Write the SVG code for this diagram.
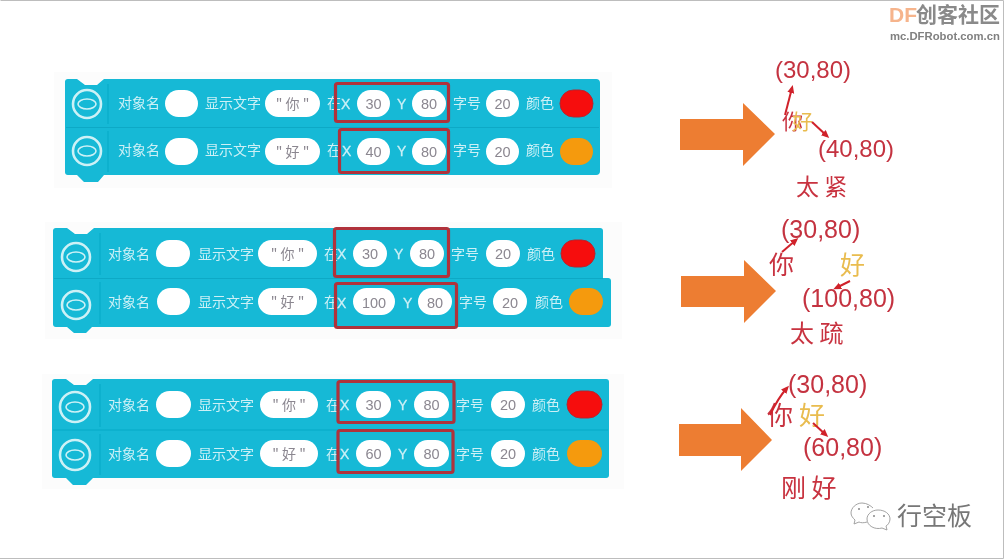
<svg xmlns="http://www.w3.org/2000/svg" width="1005" height="560" viewBox="0 0 1005 560">
<style>
text{font-family:"Noto Sans CJK SC","Liberation Sans",sans-serif}
.soft{filter:url(#s)}
.b{fill:#12b9d6}
.ln{fill:none;stroke:#0aa9c6;stroke-width:1}
.l{fill:#cdf0f6;font-size:14px}
.e{fill:#cdf0f6;font-size:14px;font-family:"Liberation Sans",sans-serif;stroke:#cdf0f6;stroke-width:.3}
.p{fill:#fff}
.v{fill:#8b8790;font-size:14.500px;text-anchor:middle;font-family:"Liberation Sans",sans-serif}
.q{fill:#8b8790;font-size:14px;text-anchor:middle}
.box{fill:none;stroke:#b0333a;stroke-width:3.200}
.ic{fill:none;stroke:#cdf1f6;stroke-width:2.600}
.ic2{fill:none;stroke:#cdf1f6;stroke-width:1.600}
.ar{fill:#ed7d31}
.co{fill:#c4323f;font-family:"Liberation Sans",sans-serif}
.zh{fill:#c8323f}
.yo{fill:#e9bc4f}
.pt{fill:none;stroke:#d0202a;stroke-width:2;marker-end:url(#m)}
</style>
<defs>
<filter id="s" x="-2%" y="-2%" width="104%" height="104%"><feGaussianBlur stdDeviation="0.450"/></filter>
<marker id="m" markerWidth="9" markerHeight="8" refX="5" refY="3.500" orient="auto" markerUnits="userSpaceOnUse"><path d="M0,0L8,3.500L0,7z" fill="#d0202a"/></marker>
</defs>
<rect width="1005" height="560" fill="#fff"/>
<path d="M0.500,0.500H1003.500V558.500H0" fill="none" stroke="#bdbdbd" stroke-width="1"/>
<rect x="54" y="72" width="558" height="116" fill="#fcfcfc"/>
<rect x="45" y="222" width="577" height="117" fill="#fcfcfc"/>
<rect x="42" y="374" width="582" height="115" fill="#fcfcfc"/>

<g id="block-1" class="soft">
<path class="b" d="M68,79H77L85,85H97L104,79H596Q600,79 600,83V171Q600,175 596,175H104L98,182H84L77,175H68Q65,175 65,172V82Q65,79 68,79Z"/>
<path class="ln" d="M66,127.500H599M108,84V124M108,131V172"/>
<circle class="ic" cx="87" cy="104" r="14"/><ellipse class="ic2" cx="87" cy="104" rx="9" ry="5"/>
<circle class="ic" cx="87" cy="151" r="14"/><ellipse class="ic2" cx="87" cy="151" rx="9" ry="5"/>
<text class="l" x="118" y="108">对象名</text><rect class="p" x="165" y="90" width="33" height="27" rx="13.500"/>
<text class="l" x="205" y="108">显示文字</text><rect class="p" x="265" y="90" width="55" height="27" rx="13.500"/><text class="q" x="292.500" y="109">" 你 "</text>
<text class="l" x="327" y="108">在</text><text class="e" x="341" y="109">X</text><rect class="p" x="357" y="90" width="33" height="27" rx="13.500"/><text class="v" x="373.500" y="109">30</text>
<text class="e" x="397" y="109">Y</text><rect class="p" x="412" y="90" width="34" height="27" rx="13.500"/><text class="v" x="429" y="109">80</text>
<text class="l" x="453" y="108">字号</text><rect class="p" x="486" y="90" width="33" height="27" rx="13.500"/><text class="v" x="502.500" y="109">20</text>
<text class="l" x="526" y="108">颜色</text><rect x="560" y="90" width="33" height="27" rx="13.500" fill="#f60b0e" stroke="#b8262e" stroke-width="1"/>
<text class="l" x="118" y="155">对象名</text><rect class="p" x="165" y="138" width="33" height="27" rx="13.500"/>
<text class="l" x="205" y="155">显示文字</text><rect class="p" x="265" y="138" width="55" height="27" rx="13.500"/><text class="q" x="292.500" y="157">" 好 "</text>
<text class="l" x="327" y="155">在</text><text class="e" x="342" y="156">X</text><rect class="p" x="357" y="138" width="33" height="27" rx="13.500"/><text class="v" x="373.500" y="157">40</text>
<text class="e" x="397" y="156">Y</text><rect class="p" x="412" y="138" width="34" height="27" rx="13.500"/><text class="v" x="429" y="157">80</text>
<text class="l" x="453" y="155">字号</text><rect class="p" x="486" y="138" width="33" height="27" rx="13.500"/><text class="v" x="502.500" y="157">20</text>
<text class="l" x="526" y="155">颜色</text><rect x="560" y="138" width="33" height="27" rx="13.500" fill="#f59a0c"/>
<rect class="box" x="335.500" y="83.500" width="113" height="38" rx="2"/>
<rect class="box" x="339.500" y="129.500" width="109" height="43" rx="2"/>
</g>

<g id="block-2" class="soft">
<path class="b" d="M56,228H67L75,234H87L94,228H600Q603,228 603,231V278H608Q611,278 611,281V324Q611,327 608,327H92L86,333H74L67,327H56Q53,327 53,324V231Q53,228 56,228Z"/>
<path class="ln" d="M54,278.500H603M100,233V275M100,282V324"/>
<circle class="ic" cx="76" cy="257" r="14"/><ellipse class="ic2" cx="76" cy="257" rx="9" ry="5"/>
<circle class="ic" cx="76" cy="305" r="14"/><ellipse class="ic2" cx="76" cy="305" rx="9" ry="5"/>
<text class="l" x="108" y="259">对象名</text><rect class="p" x="156" y="240" width="34" height="27" rx="13.500"/>
<text class="l" x="198" y="259">显示文字</text><rect class="p" x="258" y="240" width="59" height="27" rx="13.500"/><text class="q" x="287.500" y="259">" 你 "</text>
<text class="l" x="324" y="259">在</text><text class="e" x="337" y="259">X</text><rect class="p" x="353" y="240" width="34" height="27" rx="13.500"/><text class="v" x="370" y="259">30</text>
<text class="e" x="394" y="259">Y</text><rect class="p" x="410" y="240" width="34" height="27" rx="13.500"/><text class="v" x="427" y="259">80</text>
<text class="l" x="451" y="259">字号</text><rect class="p" x="486" y="240" width="34" height="27" rx="13.500"/><text class="v" x="503" y="259">20</text>
<text class="l" x="527" y="259">颜色</text><rect x="561" y="240" width="34" height="27" rx="13.500" fill="#f60b0e" stroke="#b8262e" stroke-width="1"/>
<text class="l" x="108" y="307">对象名</text><rect class="p" x="157" y="288" width="33" height="27" rx="13.500"/>
<text class="l" x="198" y="307">显示文字</text><rect class="p" x="258" y="288" width="59" height="27" rx="13.500"/><text class="q" x="287.500" y="307">" 好 "</text>
<text class="l" x="324" y="307">在</text><text class="e" x="337" y="308">X</text><rect class="p" x="353" y="288" width="42" height="27" rx="13.500"/><text class="v" x="374" y="308">100</text>
<text class="e" x="403" y="308">Y</text><rect class="p" x="418" y="288" width="34" height="27" rx="13.500"/><text class="v" x="435" y="308">80</text>
<text class="l" x="459" y="307">字号</text><rect class="p" x="493" y="288" width="34" height="27" rx="13.500"/><text class="v" x="510" y="308">20</text>
<text class="l" x="535" y="307">颜色</text><rect x="569" y="288" width="34" height="27" rx="13.500" fill="#f59a0c"/>
<rect class="box" x="334.500" y="228.500" width="114" height="48" rx="2"/>
<rect class="box" x="335.500" y="283.500" width="121" height="44" rx="2"/>
</g>

<g id="block-3" class="soft">
<path class="b" d="M55,379H66L74,385H86L93,379H606Q609,379 609,382V475Q609,478 606,478H93L86,485H73L66,478H55Q52,478 52,475V382Q52,379 55,379Z"/>
<path class="ln" d="M53,430H608M100,384V427M100,434V475"/>
<circle class="ic" cx="75" cy="407" r="15"/><ellipse class="ic2" cx="75" cy="407" rx="9" ry="5"/>
<circle class="ic" cx="75" cy="455" r="15"/><ellipse class="ic2" cx="75" cy="455" rx="9" ry="5"/>
<text class="l" x="108" y="410">对象名</text><rect class="p" x="156" y="391" width="35" height="27" rx="13.500"/>
<text class="l" x="198" y="410">显示文字</text><rect class="p" x="260" y="391" width="58" height="27" rx="13.500"/><text class="q" x="289" y="410">" 你 "</text>
<text class="l" x="326" y="410">在</text><text class="e" x="340" y="410">X</text><rect class="p" x="356" y="391" width="35" height="27" rx="13.500"/><text class="v" x="373.500" y="410">30</text>
<text class="e" x="398" y="410">Y</text><rect class="p" x="414" y="391" width="35" height="27" rx="13.500"/><text class="v" x="431.500" y="410">80</text>
<text class="l" x="456" y="410">字号</text><rect class="p" x="491" y="391" width="34" height="27" rx="13.500"/><text class="v" x="508" y="410">20</text>
<text class="l" x="532" y="410">颜色</text><rect x="567" y="391" width="35" height="27" rx="13.500" fill="#f60b0e" stroke="#b8262e" stroke-width="1"/>
<text class="l" x="108" y="459">对象名</text><rect class="p" x="156" y="440" width="35" height="27" rx="13.500"/>
<text class="l" x="198" y="459">显示文字</text><rect class="p" x="260" y="440" width="58" height="27" rx="13.500"/><text class="q" x="289" y="459">" 好 "</text>
<text class="l" x="326" y="459">在</text><text class="e" x="340" y="459">X</text><rect class="p" x="356" y="440" width="35" height="27" rx="13.500"/><text class="v" x="373.500" y="459">60</text>
<text class="e" x="398" y="459">Y</text><rect class="p" x="414" y="440" width="35" height="27" rx="13.500"/><text class="v" x="431.500" y="459">80</text>
<text class="l" x="456" y="459">字号</text><rect class="p" x="491" y="440" width="34" height="27" rx="13.500"/><text class="v" x="508" y="459">20</text>
<text class="l" x="532" y="459">颜色</text><rect x="567" y="440" width="35" height="27" rx="13.500" fill="#f59a0c"/>
<rect class="box" x="338" y="381.500" width="116" height="41" rx="2"/>
<rect class="box" x="338" y="430.500" width="115" height="42" rx="2"/>
</g>

<g id="arrows" class="soft">
<path class="ar" d="M680,119H743V103L775,134L743,166V150H680Z"/>
<path class="ar" d="M681,276H744V260L776,291L744,323V307H681Z"/>
<path class="ar" d="M679,424H741V408L772,440L741,471V456H679Z"/>
</g>

<g id="result-1" class="soft">
<text class="co" x="775" y="78" font-size="24">(30,80)</text>
<text class="zh" x="782" y="129" font-size="21">你</text>
<text class="yo" x="792" y="129" font-size="21">好</text>
<text class="co" x="818" y="157" font-size="24">(40,80)</text>
<text class="zh" x="796" y="195" font-size="23" xml:space="preserve">太 紧</text>
</g>
<g id="result-2" class="soft">
<text class="co" x="781" y="238" font-size="25">(30,80)</text>
<text class="zh" x="769" y="274" font-size="25">你</text>
<text class="yo" x="840" y="274" font-size="25">好</text>
<text class="co" x="802" y="307" font-size="25">(100,80)</text>
<text class="zh" x="790" y="342" font-size="24" xml:space="preserve">太 疏</text>
</g>
<g id="result-3" class="soft">
<text class="co" x="788" y="393" font-size="25">(30,80)</text>
<text class="zh" x="767" y="425" font-size="26">你</text>
<text class="yo" x="799" y="425" font-size="26">好</text>
<text class="co" x="803" y="456" font-size="25">(60,80)</text>
<text class="zh" x="781" y="497" font-size="25" xml:space="preserve">刚 好</text>
</g>

<g id="connectors" class="soft">
<path class="pt" d="M785,115L792,88"/>
<path class="pt" d="M812,122L827,136"/>
<path class="pt" d="M782,252L796,240"/>
<path class="pt" d="M850,281L836,288"/>
<path class="pt" d="M770,415Q778,398 787,388"/>
<path class="pt" d="M813,423L826,435"/>
</g>

<g id="watermark" class="soft">
<text x="889" y="22" font-size="21" font-weight="bold" fill="#f6b48c" style="font-family:'Liberation Sans',sans-serif">DF</text>
<text x="916" y="22" font-size="21" font-weight="bold" fill="#8a8a8a">创客社区</text>
<text x="890" y="40" font-size="11.300" font-weight="bold" fill="#808080" style="font-family:'Liberation Sans',sans-serif">mc.DFRobot.com.cn</text>
</g>
<g id="wechat-mark" class="soft">
<path d="M873,508C871,506 867,503 862,503C856,503 851,508 851,513C851,516 853,518 855,520L854,524L859,522C861,523 864,523 867,522" fill="#fff" stroke="#999" stroke-width="0.900"/>
<path d="M878,510C885,510 890,514 890,519C890,522 888,525 886,526L887,530L882,528C875,530 867,526 867,519C867,514 872,510 878,510Z" fill="#fff" stroke="#999" stroke-width="0.900"/>
<circle cx="859" cy="509" r="1" fill="#888"/><circle cx="868" cy="507" r="1" fill="#888"/><circle cx="874" cy="516" r="1" fill="#888"/><circle cx="884" cy="516" r="1" fill="#888"/>
<text x="897" y="525" font-size="25" fill="#777">行空板</text>
</g>
</svg>
